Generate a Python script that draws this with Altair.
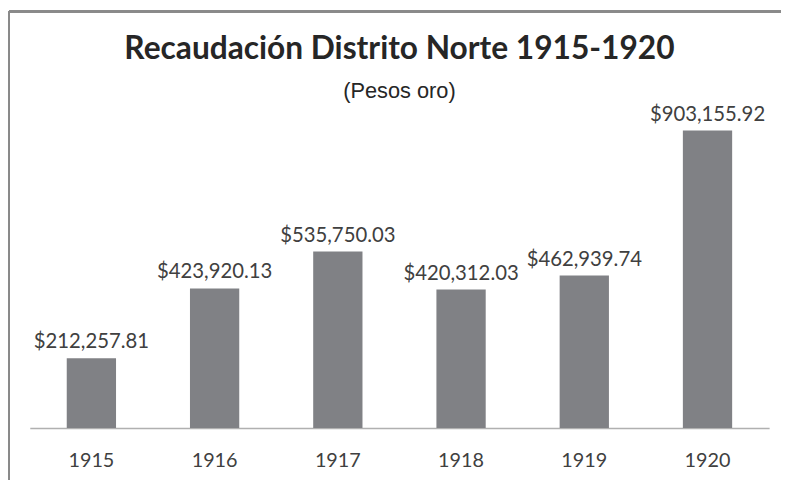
import altair as alt
import pandas as pd

years = ["1915", "1916", "1917", "1918", "1919", "1920"]
values = [212257.81, 423920.13, 535750.03, 420312.03, 462939.74, 903155.92]

df = pd.DataFrame({"year": years, "value": values})

FONT = "Lato"
x = alt.X("year:N", sort=years, title=None,
          scale=alt.Scale(paddingInner=0.6, paddingOuter=0.3),
          axis=alt.Axis(labelAngle=0, ticks=False, labelFontSize=20, labelFont=FONT,
                        labelColor="#404040", labelPadding=23, domainColor="#b0b0b0",
                        domainWidth=1.5, grid=False))
y = alt.Y("value:Q", title=None, scale=alt.Scale(domain=[0, 1000000]), axis=None)

base = alt.Chart(df).encode(x=x, y=y)
bars = base.mark_bar(color="#808185")
labels = base.mark_text(baseline="alphabetic", dy=-10, fontSize=20.5, font=FONT,
                        color="#404040").encode(text=alt.Text("value:Q", format="$,.2f"))

frame_top = alt.Chart(df).mark_rule(color="#8a8a8a", strokeWidth=2).encode(
    x=alt.value(-21), x2=alt.value(760), y=alt.value(-88))
frame_left = alt.Chart(df).mark_rule(color="#8a8a8a", strokeWidth=2).encode(
    x=alt.value(-21), y=alt.value(-88), y2=alt.value(400))

chart = alt.layer(frame_top, frame_left, bars, labels).properties(
    width=747, height=333,
    autosize=alt.AutoSizeParams(type="none"),
    padding={"left": 22, "top": 89, "right": 12, "bottom": 50},
    title=alt.TitleParams("Recaudación Distrito Norte 1915-1920",
                          subtitle="(Pesos oro)", anchor="middle", frame="group",
                          fontSize=32, font=FONT, fontWeight="bold", color="#262626",
                          subtitleFont="Liberation Sans", subtitleFontSize=22,
                          subtitleColor="#262626", subtitlePadding=15, offset=-93),
).configure_view(stroke=None)

chart.save("out.html", embed_options={"renderer": "svg", "actions": False})
